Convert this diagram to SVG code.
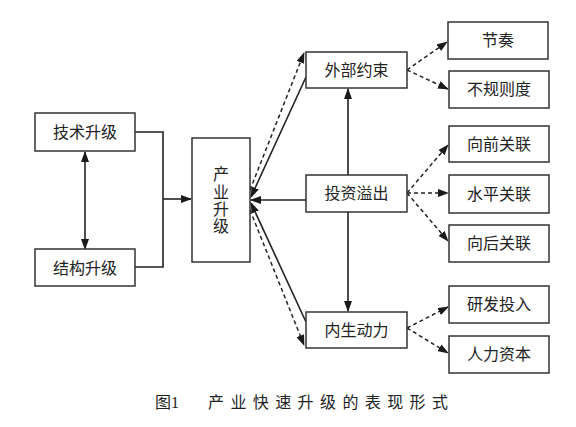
<svg xmlns="http://www.w3.org/2000/svg" width="576" height="427" viewBox="0 0 576 427">
<defs>
<marker id="ah" markerUnits="userSpaceOnUse" markerWidth="11" markerHeight="8" refX="10" refY="4" orient="auto-start-reverse"><path d="M0,0 L11,4 L0,8 z" fill="#1a1a1a"/></marker>
</defs>
<style>
.box{fill:#fff;stroke:#333;stroke-width:1.5}
.lbl{font-family:"Liberation Serif","Noto Sans CJK SC",serif;font-size:16px;fill:#222;text-anchor:middle;dominant-baseline:central}
.c{fill:none;stroke:#222;stroke-width:1.6}
.d{fill:none;stroke:#222;stroke-width:1.5;stroke-dasharray:4 3}
</style>
<rect width="576" height="427" fill="#fff"/>
<g id="connectors">
<line class="c" x1="85" y1="152" x2="85" y2="249" marker-start="url(#ah)" marker-end="url(#ah)"/>
<path class="c" d="M135,132 H163 V267 H135"/>
<path class="c" d="M163,199 H191" marker-end="url(#ah)"/>
<path class="c" d="M306,200 H251" marker-end="url(#ah)"/>
<path class="c" d="M348,175 V89" marker-end="url(#ah)"/>
<path class="c" d="M348,212 V311" marker-end="url(#ah)"/>
<path class="c" d="M306,77 L251,197" marker-end="url(#ah)"/>
<path class="d" d="M250,190 L304,53" marker-end="url(#ah)"/>
<path class="c" d="M306,322 L251,203" marker-end="url(#ah)"/>
<path class="d" d="M250,210 L304,345" marker-end="url(#ah)"/>
<path class="d" d="M407,70 L447,42" marker-end="url(#ah)"/>
<path class="d" d="M407,70 L448,89" marker-end="url(#ah)"/>
<path class="d" d="M407,193 L448,145" marker-end="url(#ah)"/>
<path class="d" d="M407,193 L448,193" marker-end="url(#ah)"/>
<path class="d" d="M407,193 L448,241" marker-end="url(#ah)"/>
<path class="d" d="M407,328 L448,307" marker-end="url(#ah)"/>
<path class="d" d="M407,328 L448,353" marker-end="url(#ah)"/>
</g>
<g id="n-tech"><rect class="box" x="35" y="113" width="100" height="38"/><text class="lbl" x="85" y="132">技术升级</text></g>
<g id="n-struct"><rect class="box" x="35" y="249" width="100" height="37"/><text class="lbl" x="85" y="268">结构升级</text></g>
<g id="n-industry"><rect class="box" x="192" y="138" width="58" height="124"/>
<text class="lbl" x="221" y="174">产</text><text class="lbl" x="221" y="192">业</text><text class="lbl" x="221" y="209">升</text><text class="lbl" x="221" y="226">级</text></g>
<g id="n-ext"><rect class="box" x="306" y="52" width="101" height="36"/><text class="lbl" x="356.5" y="70">外部约束</text></g>
<g id="n-inv"><rect class="box" x="306" y="175" width="101" height="37"/><text class="lbl" x="356.5" y="193.5">投资溢出</text></g>
<g id="n-endo"><rect class="box" x="306" y="312" width="101" height="36"/><text class="lbl" x="356.5" y="330">内生动力</text></g>
<g id="n-jiezou"><rect class="box" x="448" y="22" width="100" height="37"/><text class="lbl" x="498" y="40.5">节奏</text></g>
<g id="n-buguize"><rect class="box" x="449" y="71" width="100" height="37"/><text class="lbl" x="499" y="89.5">不规则度</text></g>
<g id="n-xiangqian"><rect class="box" x="449" y="126" width="100" height="36"/><text class="lbl" x="499" y="144">向前关联</text></g>
<g id="n-shuiping"><rect class="box" x="449" y="175" width="100" height="38"/><text class="lbl" x="499" y="194">水平关联</text></g>
<g id="n-xianghou"><rect class="box" x="449" y="225" width="100" height="37"/><text class="lbl" x="499" y="243.5">向后关联</text></g>
<g id="n-yanfa"><rect class="box" x="449" y="286" width="100" height="37"/><text class="lbl" x="499" y="304.5">研发投入</text></g>
<g id="n-renli"><rect class="box" x="449" y="336" width="100" height="37"/><text class="lbl" x="499" y="354.5">人力资本</text></g>
<g id="caption" font-family="'Liberation Serif','Noto Sans CJK SC',serif" font-size="16" fill="#222">
<text x="155" y="408">图1</text>
<text x="208" y="408" letter-spacing="6.4">产业快速升级的表现形式</text>
</g>
</svg>
